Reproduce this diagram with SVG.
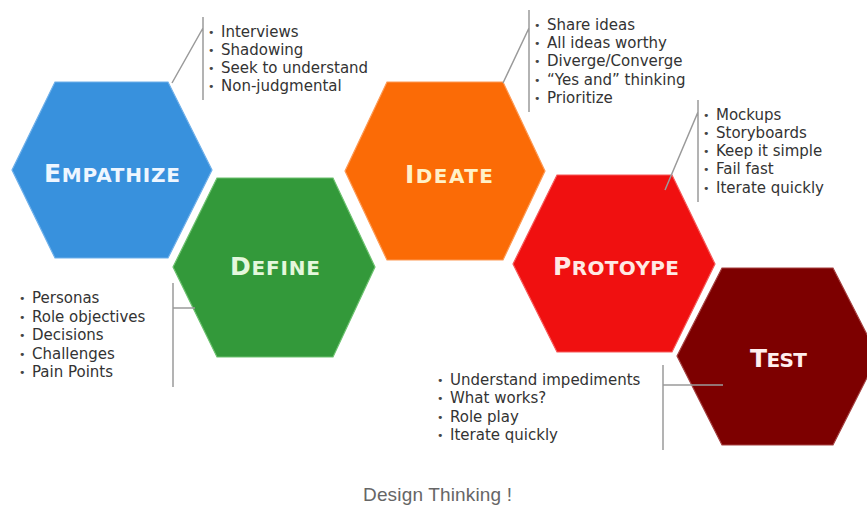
<svg xmlns="http://www.w3.org/2000/svg" width="867" height="506" viewBox="0 0 867 506">
<style>
.hex{stroke-width:1.2}
.h{font-family:"DejaVu Sans",Verdana,sans-serif;font-weight:bold;font-size:20px}
.hb{font-size:25px}
.b{font-family:"DejaVu Sans",Verdana,sans-serif;font-size:15px;fill:#333}
.dot{font-family:"DejaVu Sans",sans-serif;font-size:11px;fill:#444}
.c{stroke:#9a9a9a;stroke-width:1.5;fill:none}
.cap{font-family:"Liberation Sans",Arial,sans-serif;font-size:19px;fill:#666}
</style>
<rect width="867" height="506" fill="#ffffff"/>
<g id="empathize">
<polygon class="hex" points="12,170 55,82 168,82 212,170 168,258 55,258" fill="#3891dd" stroke="#6fb0ea"/>
<text class="h" x="44" y="182" fill="#eef6ff" textLength="136" lengthAdjust="spacing"><tspan class="hb">E</tspan>MPATHIZE</text>
</g>
<g id="define">
<polygon class="hex" points="173,267 217,178 333,178 375,267 333,357 217,357" fill="#33993a" stroke="#6cc26f"/>
<text class="h" x="230" y="275" fill="#e4f7dc" textLength="90" lengthAdjust="spacing"><tspan class="hb">D</tspan>EFINE</text>
</g>
<g id="ideate">
<polygon class="hex" points="345,171 387,82 503,82 545,171 503,260 387,260" fill="#fb6b06" stroke="#fd9a55"/>
<text class="h" x="405" y="183" fill="#fff1c8" textLength="88" lengthAdjust="spacing"><tspan class="hb">I</tspan>DEATE</text>
</g>
<g id="protoype">
<polygon class="hex" points="513,264 557,175 672,175 715,264 672,352 557,352" fill="#f01010" stroke="#f65a5a"/>
<text class="h" x="553" y="275" fill="#ffe9e4" textLength="126" lengthAdjust="spacing"><tspan class="hb">P</tspan>ROTOYPE</text>
</g>
<g id="test">
<polygon class="hex" points="677,356 722,268 833,268 878,356 833,445 722,445" fill="#7d0000" stroke="#a54040"/>
<text class="h" x="750" y="367" fill="#ffeeee" textLength="57" lengthAdjust="spacing"><tspan class="hb">T</tspan>EST</text>
</g>
<g id="connectors">
<path class="c" d="M203,17 V100 M172,83 L203,28"/>
<path class="c" d="M529,10 V112 M503,83 L529,28"/>
<path class="c" d="M698,100 V202 M665,190 L698,112"/>
<path class="c" d="M173,283 V387 M173,308 H195"/>
<path class="c" d="M663,365 V450 M663,385 H723"/>
</g>
<g id="empathize-notes">
<text class="dot" x="208" y="36">•</text><text class="b" x="221" y="37">Interviews</text>
<text class="dot" x="208" y="54">•</text><text class="b" x="221" y="55">Shadowing</text>
<text class="dot" x="208" y="72">•</text><text class="b" x="221" y="73">Seek to understand</text>
<text class="dot" x="208" y="90">•</text><text class="b" x="221" y="91">Non-judgmental</text>
</g>
<g id="ideate-notes">
<text class="dot" x="534" y="29">•</text><text class="b" x="547" y="30">Share ideas</text>
<text class="dot" x="534" y="47">•</text><text class="b" x="547" y="48">All ideas worthy</text>
<text class="dot" x="534" y="65">•</text><text class="b" x="547" y="66">Diverge/Converge</text>
<text class="dot" x="534" y="84">•</text><text class="b" x="547" y="85">“Yes and” thinking</text>
<text class="dot" x="534" y="102">•</text><text class="b" x="547" y="103">Prioritize</text>
</g>
<g id="protoype-notes">
<text class="dot" x="703" y="119">•</text><text class="b" x="716" y="120">Mockups</text>
<text class="dot" x="703" y="137">•</text><text class="b" x="716" y="138">Storyboards</text>
<text class="dot" x="703" y="155">•</text><text class="b" x="716" y="156">Keep it simple</text>
<text class="dot" x="703" y="173">•</text><text class="b" x="716" y="174">Fail fast</text>
<text class="dot" x="703" y="192">•</text><text class="b" x="716" y="193">Iterate quickly</text>
</g>
<g id="define-notes">
<text class="dot" x="19" y="302">•</text><text class="b" x="32" y="303">Personas</text>
<text class="dot" x="19" y="321">•</text><text class="b" x="32" y="322">Role objectives</text>
<text class="dot" x="19" y="339">•</text><text class="b" x="32" y="340">Decisions</text>
<text class="dot" x="19" y="358">•</text><text class="b" x="32" y="359">Challenges</text>
<text class="dot" x="19" y="376">•</text><text class="b" x="32" y="377">Pain Points</text>
</g>
<g id="test-notes">
<text class="dot" x="437" y="384">•</text><text class="b" x="450" y="385">Understand impediments</text>
<text class="dot" x="437" y="402">•</text><text class="b" x="450" y="403">What works?</text>
<text class="dot" x="437" y="421">•</text><text class="b" x="450" y="422">Role play</text>
<text class="dot" x="437" y="439">•</text><text class="b" x="450" y="440">Iterate quickly</text>
</g>
<text class="cap" x="363" y="501" textLength="149" lengthAdjust="spacing">Design Thinking !</text>
</svg>
